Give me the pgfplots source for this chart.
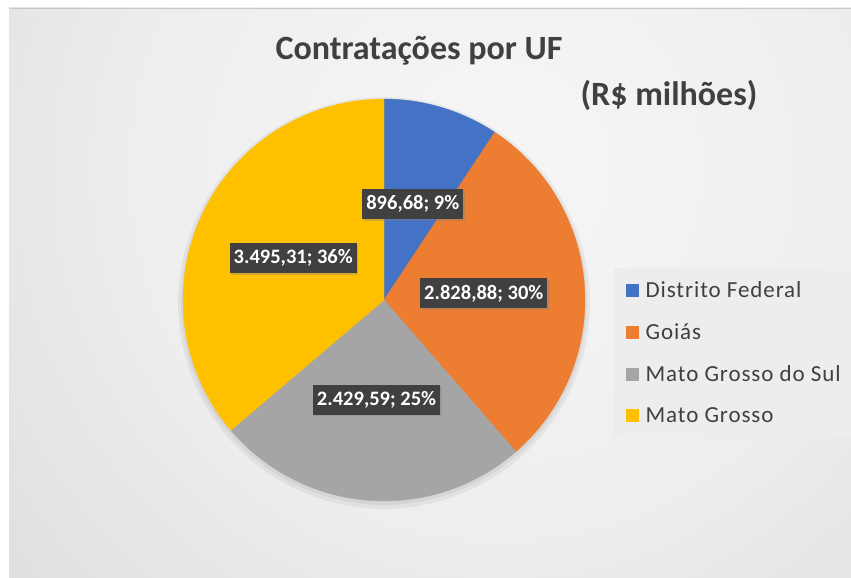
\documentclass[border=0pt]{standalone}
\usepackage{fontspec}
\setmainfont{Carlito}
\newfontfamily\legfont[LetterSpace=4]{Carlito}
\usepackage{pgfplots}
\usepackage{pgfplotstable}
\pgfplotsset{compat=1.18}
\usetikzlibrary{shadows}

\definecolor{cDF}{HTML}{4472C4}
\definecolor{cGO}{HTML}{ED7D31}
\definecolor{cMS}{HTML}{A5A5A5}
\definecolor{cMT}{HTML}{FFC000}
\definecolor{txt}{HTML}{404040}
\definecolor{lab}{HTML}{404040}
\definecolor{legbg}{HTML}{EDEDED}
\definecolor{bgA}{HTML}{F6F6F6}
\definecolor{bgB}{HTML}{EEEEEE}
\definecolor{bgC}{HTML}{DCDCDC}
\definecolor{bgD}{HTML}{D5D5D5}
\definecolor{bgE}{HTML}{CDCDCD}
\definecolor{bgF}{HTML}{C8C8C8}
\pgfdeclareradialshading{bgshade}{\pgfpoint{0bp}{0bp}}{color(0bp)=(bgA); color(12.9bp)=(bgB); color(25bp)=(bgC); color(28.6bp)=(bgD); color(38.6bp)=(bgE); color(50bp)=(bgF)}
\tikzset{lbl/.style={fill=lab, text=white, font=\bfseries\fontsize{20.5}{24}\selectfont,
    inner xsep=4pt, inner ysep=0pt, minimum height=30pt,
    drop shadow={shadow xshift=1.5pt, shadow yshift=-1.5pt, opacity=0.35}}}

\pgfplotstableread{
uf value
DF 896.68
GO 2828.88
MS 2429.59
MT 3495.31
}\piedata
\pgfplotstablegetelem{0}{value}\of\piedata\let\vA\pgfplotsretval
\pgfplotstablegetelem{1}{value}\of\piedata\let\vB\pgfplotsretval
\pgfplotstablegetelem{2}{value}\of\piedata\let\vC\pgfplotsretval
\pgfplotstablegetelem{3}{value}\of\piedata\let\vD\pgfplotsretval
\pgfmathsetmacro\tot{\vA+\vB+\vC+\vD}
\pgfmathsetmacro\aA{90}
\pgfmathsetmacro\aB{\aA-360*(\vA/\tot)}
\pgfmathsetmacro\aC{\aB-360*(\vB/\tot)}
\pgfmathsetmacro\aD{\aC-360*(\vC/\tot)}
\pgfmathsetmacro\aE{\aD-360*(\vD/\tot)}
\pgfmathsetmacro\mA{(\aA+\aB)/2}
\pgfmathsetmacro\mB{(\aB+\aC)/2}
\pgfmathsetmacro\mC{(\aC+\aD)/2}
\pgfmathsetmacro\mD{(\aD+\aE)/2}

\begin{document}
\begin{tikzpicture}
\path[use as bounding box] (0,0) rectangle (851pt,578pt);
\fill[white] (0,0) rectangle (851pt,578pt);
\fill[bgF] (9pt,0pt) rectangle (851pt,570pt);
\begin{scope}
\clip (9pt,0pt) rectangle (851pt,570pt);
\shade[shading=bgshade] (500pt,408pt) circle (700pt);
\end{scope}
\draw[black!22, line width=0.8pt] (9pt,570pt) -- (853pt,570pt);
\begin{axis}[
  at={(0pt,0pt)}, anchor=south west,
  x=1pt, y=1pt,
  xmin=-384, xmax=467, ymin=-278, ymax=300,
  hide axis, clip=false,
  legend image code/.code={\fill[#1] (0pt,-6pt) rectangle (12pt,6pt);},
  legend cell align=left,
  legend style={at={(0.7215,0.5363)}, anchor=north west, fill=legbg, draw=none,
    inner xsep=12pt, inner ysep=1.5pt, column sep=7pt,
    font=\legfont\fontsize{23}{27}\selectfont, text=txt,
    nodes={inner sep=0pt, minimum height=41.7pt}},
]
% soft pie shadow
\addplot[forget plot, draw=none, fill=black, fill opacity=0.05, domain=0:360, samples=90, variable=\t] ({206*cos(\t)},{-3+206*sin(\t)}) -- cycle;
\addplot[forget plot, draw=none, fill=black, fill opacity=0.05, domain=0:360, samples=90, variable=\t] ({203*cos(\t)},{-2+203*sin(\t)}) -- cycle;
% slices
\addplot[forget plot, draw=cDF, fill=cDF, line width=0.3pt, domain=\aB:\aA, samples=40, variable=\t] ({201*cos(\t)},{201*sin(\t)}) -- (axis cs:0,0) -- cycle;
\addplot[forget plot, draw=cGO, fill=cGO, line width=0.3pt, domain=\aC:\aB, samples=80, variable=\t] ({201*cos(\t)},{201*sin(\t)}) -- (axis cs:0,0) -- cycle;
\addplot[forget plot, draw=cMS, fill=cMS, line width=0.3pt, domain=\aD:\aC, samples=80, variable=\t] ({201*cos(\t)},{201*sin(\t)}) -- (axis cs:0,0) -- cycle;
\addplot[forget plot, draw=cMT, fill=cMT, line width=0.3pt, domain=\aE:\aD, samples=80, variable=\t] ({201*cos(\t)},{201*sin(\t)}) -- (axis cs:0,0) -- cycle;

\addlegendimage{cDF}\addlegendentry{Distrito Federal}
\addlegendimage{cGO}\addlegendentry{Goiás}
\addlegendimage{cMS}\addlegendentry{Mato Grosso do Sul}
\addlegendimage{cMT}\addlegendentry{Mato Grosso}

\node[lbl] at (axis cs:{100*cos(\mA)},{100*sin(\mA)}) {896,68; 9\%};
\node[lbl] at (axis cs:{100*cos(\mB)},{100*sin(\mB)}) {2.828,88; 30\%};
\node[lbl] at (axis cs:{100*cos(\mC)},{100*sin(\mC)}) {2.429,59; 25\%};
\node[lbl] at (axis cs:{100*cos(\mD)},{100*sin(\mD)}) {3.495,31; 36\%};

\node[anchor=base, text=txt, font=\bfseries\fontsize{34}{40}\selectfont] at (axis cs:35,240) {Contratações por UF};
\node[anchor=base, text=txt, font=\bfseries\fontsize{34}{40}\selectfont] at (axis cs:285,194) {(R\$ milhões)};
\end{axis}
\end{tikzpicture}
\end{document}
